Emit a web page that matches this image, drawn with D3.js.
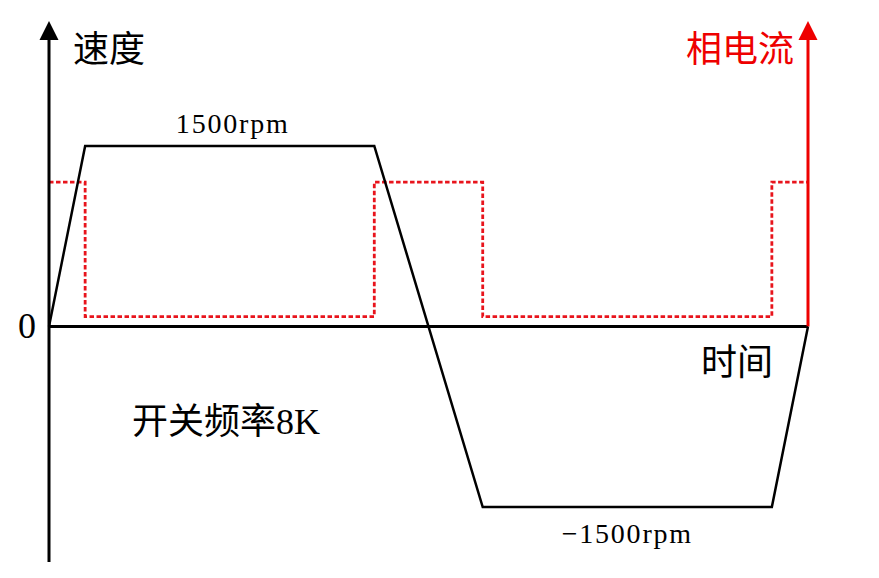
<!DOCTYPE html>
<html>
<head>
<meta charset="utf-8">
<script src="https://cdn.jsdelivr.net/npm/d3@7"></script>
<style>
  html, body { margin: 0; padding: 0; background: #fff; }
  text { font-family: "Liberation Serif", "Noto Sans CJK SC", serif; }
</style>
</head>
<body>
<svg id="chart" width="879" height="578"></svg>
<script>
// time in arbitrary units, speed in rpm, current in arbitrary units
var times = [0, 1, 9, 12, 20, 21];
var speed = [0, 1500, 1500, -1500, -1500, 0];
var current = [8, 0.55, 8, 0.55, 8, 8];

var speedLabels = ['1500rpm', '\u22121500rpm'];
var zeroLabel = '0';
var yTitle = '速度';
var y2Title = '相电流';
var xTitle = '时间';
var note = '开关频率8K';

var svg = d3.select('#chart');

var x = d3.scaleLinear().domain([0, 21]).range([49, 808]);
var y = d3.scaleLinear().domain([-1500, 1500]).range([507, 146]);
var y2 = d3.scaleLinear().domain([-10, 10]).range([507, 146]);

var speedPts = times.map(function (t, i) { return [t, speed[i]]; });
var currentPts = times.map(function (t, i) { return [t, current[i]]; });

// current (red dashed step)
var curLine = d3.line()
    .x(function (d) { return x(d[0]); })
    .y(function (d) { return y2(d[1]); })
    .curve(d3.curveStepAfter);

svg.append('path')
    .attr('d', curLine(currentPts))
    .attr('fill', 'none')
    .attr('stroke', '#e8141c')
    .attr('stroke-width', 2.8)
    .attr('stroke-dasharray', '4.5,2.5');

// axes
var x0 = x(0), x1 = x(21), yz = y(0);

svg.append('line')
    .attr('x1', x0).attr('x2', x0)
    .attr('y1', 562).attr('y2', 36)
    .attr('stroke', '#000').attr('stroke-width', 3);
svg.append('path')
    .attr('d', 'M' + x0 + ',21L' + (x0 - 9.5) + ',40L' + (x0 + 9.5) + ',40Z')
    .attr('fill', '#000');

svg.append('line')
    .attr('x1', x0).attr('x2', x1)
    .attr('y1', yz).attr('y2', yz)
    .attr('stroke', '#000').attr('stroke-width', 3);

svg.append('line')
    .attr('x1', x1).attr('x2', x1)
    .attr('y1', yz).attr('y2', 36)
    .attr('stroke', '#ee0000').attr('stroke-width', 3);
svg.append('path')
    .attr('d', 'M' + x1 + ',21L' + (x1 - 9.5) + ',40L' + (x1 + 9.5) + ',40Z')
    .attr('fill', '#ee0000');

// speed
var spLine = d3.line()
    .x(function (d) { return x(d[0]); })
    .y(function (d) { return y(d[1]); });

svg.append('path')
    .attr('d', spLine(speedPts))
    .attr('fill', 'none')
    .attr('stroke', '#000')
    .attr('stroke-width', 2.5)
    .attr('stroke-linejoin', 'miter');

// labels
svg.append('text')
    .attr('x', (x(1) + x(9)) / 2 + 3).attr('y', 133)
    .attr('text-anchor', 'middle')
    .attr('font-size', 28)
    .attr('letter-spacing', 1.8)
    .text(speedLabels[0]);

svg.append('text')
    .attr('x', (x(12) + x(20)) / 2).attr('y', 543)
    .attr('text-anchor', 'middle')
    .attr('font-size', 28)
    .attr('letter-spacing', 1.8)
    .text(speedLabels[1]);

svg.append('text')
    .attr('x', 18).attr('y', 338)
    .attr('font-size', 36)
    .text(zeroLabel);

svg.append('text')
    .attr('x', 73).attr('y', 62)
    .attr('font-size', 36)
    .text(yTitle);

svg.append('text')
    .attr('x', 794).attr('y', 62)
    .attr('text-anchor', 'end')
    .attr('font-size', 36)
    .attr('fill', '#ee0000')
    .text(y2Title);

svg.append('text')
    .attr('x', 773).attr('y', 375)
    .attr('text-anchor', 'end')
    .attr('font-size', 36)
    .text(xTitle);

svg.append('text')
    .attr('x', 132).attr('y', 434)
    .attr('font-size', 36)
    .text(note);
</script>
</body>
</html>
